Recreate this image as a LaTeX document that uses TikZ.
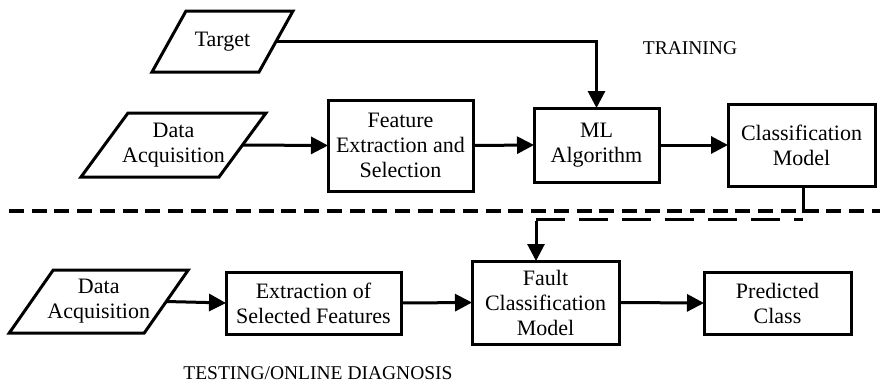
\documentclass[tikz,border=0pt]{standalone}
\usepackage{fontspec}
\setmainfont{Liberation Serif}
\newfontfamily\diagfont{Liberation Serif}
\usetikzlibrary{arrows.meta,calc}
\begin{document}
\begin{tikzpicture}[x=1pt,y=-1pt,
  txt/.style={font=\diagfont\fontsize{22}{25}\selectfont, align=center, inner sep=0pt, outer sep=0pt},
  box/.style={txt, draw, line width=3pt, rectangle},
  para/.style={txt, draw=none},
  conn/.style={line width=3pt},
  arr/.style={conn, -{Triangle[length=17pt,width=17pt]}},
  lbl/.style={font=\diagfont\fontsize{19.5}{22}\selectfont, inner sep=0pt}
]
\useasboundingbox (0,0) rectangle (880,389);
% training row
\node[para, minimum width=107pt, minimum height=61pt] (target) at (222.5,41.5) {Target};
\node[para, minimum width=138pt, minimum height=64pt] (da1) at (173.5,145) {Data\\Acquisition};
\node[box, minimum width=145pt, minimum height=91pt] (fes) at (400.5,145.5) {Feature\\Extraction and\\Selection};
\node[box, minimum width=125pt, minimum height=74pt] (ml) at (596.5,145) {ML\\Algorithm};
\node[box, minimum width=147pt, minimum height=82pt] (cm) at (801.5,145) {Classification\\Model};
% testing row
\node[para, minimum width=135pt, minimum height=63pt] (da2) at (98.75,301.5) {Data\\Acquisition};
\node[box, minimum width=175pt, minimum height=62pt] (esf) at (313.5,303) {Extraction of\\Selected Features};
\node[box, minimum width=147pt, minimum height=83pt] (fcm) at (545.5,302.5) {Fault\\Classification\\Model};
\node[box, minimum width=147pt, minimum height=62pt] (pc) at (777.5,303) {Predicted\\Class};
% parallelogram outlines
\draw[conn, line join=miter] ([xshift=17pt]target.north west) -- ([xshift=17pt]target.north east) -- ([xshift=-17pt]target.south east) -- ([xshift=-17pt]target.south west) -- cycle;
\draw[conn, line join=miter] ([xshift=23.5pt]da1.north west) -- ([xshift=23.5pt]da1.north east) -- ([xshift=-23.5pt]da1.south east) -- ([xshift=-23.5pt]da1.south west) -- cycle;
\draw[conn, line join=miter] ([xshift=22pt]da2.north west) -- ([xshift=22pt]da2.north east) -- ([xshift=-22pt]da2.south east) -- ([xshift=-22pt]da2.south west) -- cycle;
% labels
\node[lbl] (train) at (690,48.5) {TRAINING};
\node[lbl] (test) at (318,373) {TESTING/ONLINE DIAGNOSIS};
% divider
\coordinate (divL) at (9,211);
\coordinate (divR) at (880,211);
\draw[line width=3.3pt, dash pattern=on 15pt off 7.7pt] (divL) -- (divR);
% connectors
\draw[arr] (target.east) -| (ml.north);
\draw[arr] (da1.east) -- (fes.west);
\draw[arr] (fes.east) -- (ml.west);
\draw[arr] (ml.east) -- (cm.west);
\draw[arr] (da2.east) -- (esf.west);
\draw[arr] (esf.east) -- (fcm.west);
\draw[arr] (fcm.east) -- (pc.west);
\coordinate (cmdown) at (803,213);
\coordinate (turnR) at (803,219);
\coordinate (turnL) at (536,219);
\draw[conn] (cm.south -| cmdown) -- (cmdown);
\draw[conn, dash pattern=on 29pt off 14pt] (turnL) -- (turnR);
\draw[arr] ([yshift=-1.5pt]turnL) -- (turnL |- fcm.north);
\end{tikzpicture}
\end{document}
